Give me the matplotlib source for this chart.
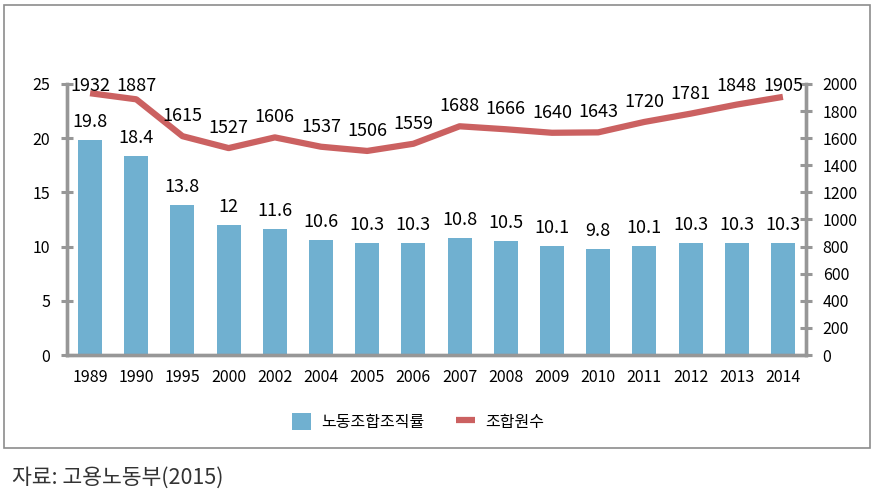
import matplotlib
matplotlib.use("Agg")
import matplotlib.pyplot as plt
from matplotlib.patches import Rectangle
import numpy as np

plt.rcParams['font.family'] = ['Noto Sans CJK KR', 'DejaVu Sans']

# data
years = ['1989', '1990', '1995', '2000', '2002', '2004', '2005', '2006',
         '2007', '2008', '2009', '2010', '2011', '2012', '2013', '2014']
rate = [19.8, 18.4, 13.8, 12, 11.6, 10.6, 10.3, 10.3,
        10.8, 10.5, 10.1, 9.8, 10.1, 10.3, 10.3, 10.3]
members = [1932, 1887, 1615, 1527, 1606, 1537, 1506, 1559,
           1688, 1666, 1640, 1643, 1720, 1781, 1848, 1905]
rate_labels = ['19.8', '18.4', '13.8', '12', '11.6', '10.6', '10.3', '10.3',
               '10.8', '10.5', '10.1', '9.8', '10.1', '10.3', '10.3', '10.3']

bar_color = '#70B0D0'
line_color = '#CB6161'
axis_gray = '#979797'

fig = plt.figure(figsize=(8.74, 4.93), dpi=100)

# outer frame around the chart
fig.patches.append(Rectangle((4 / 874, 1 - 448 / 493), 866 / 874, 443 / 493,
                             transform=fig.transFigure, fill=False,
                             edgecolor='#8C8C8C', linewidth=1.2))

ax_h_px = 271
ax = fig.add_axes([67 / 874, 138 / 493, 739 / 874, ax_h_px / 493])
ax2 = ax.twinx()

x = np.arange(len(years))
bars = ax.bar(x, rate, width=0.52, color=bar_color, label='노동조합조직률', zorder=2)
line, = ax2.plot(x, members, color=line_color, linewidth=4.5,
                 solid_capstyle='butt', label='조합원수', zorder=3)

ax.set_xlim(-0.5, len(years) - 0.5)
ax.set_ylim(0, 25)
ax2.set_ylim(0, 2000)
ax.set_yticks(range(0, 26, 5))
ax2.set_yticks(range(0, 2001, 200))

ax.set_xticks(x)
ax.set_xticklabels(years)
ax.tick_params(axis='x', length=0, pad=10, labelsize=11.5)
ax.tick_params(axis='y', direction='inout', length=8, width=2.2,
               color=axis_gray, labelsize=11.5, pad=8)
ax2.tick_params(axis='y', direction='inout', length=8, width=2.2,
                color=axis_gray, labelsize=11.5, pad=8)

for a in (ax, ax2):
    a.spines['top'].set_visible(False)
    for s in ('left', 'right', 'bottom'):
        a.spines[s].set_color(axis_gray)
        a.spines[s].set_linewidth(2.4)

ax.set_zorder(ax2.get_zorder() - 1)
ax2.patch.set_visible(False)

# data labels (line labels pushed down so they stay inside the plot top)
for xi, v, lab in zip(x, rate, rate_labels):
    ax.annotate(lab, (xi, v), xytext=(0, 18 * 0.72), textcoords='offset points',
                ha='center', va='center', fontsize=13, annotation_clip=False)
for xi, v in zip(x, members):
    headroom = (2000 - v) / 2000 * ax_h_px
    off_px = min(20, headroom - 2)
    ax2.annotate(str(v), (xi, v), xytext=(0, off_px * 0.72), textcoords='offset points',
                 ha='center', va='center', fontsize=13, annotation_clip=False)

fig.legend(handles=[bars, line], loc='center', bbox_to_anchor=(418 / 874, 71 / 493),
           ncol=2, frameon=False, fontsize=11.5, handlelength=1.2, handleheight=1.2,
           columnspacing=2.0, handletextpad=0.6)

fig.text(12 / 874, 1 - 478 / 493, '자료: 고용노동부(2015)', fontsize=15.5,
         ha='left', va='center', color='#333333')

fig.savefig('out.png', dpi=100)
